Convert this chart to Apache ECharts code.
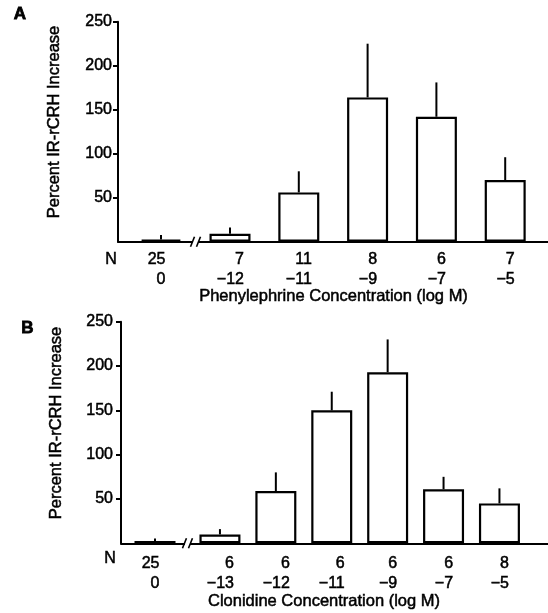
<!DOCTYPE html>
<html><head><meta charset="utf-8">
<script src="https://cdn.jsdelivr.net/npm/echarts@6/dist/echarts.min.js"></script>
<style>html,body{margin:0;padding:0;background:#fff}#c{width:548px;height:613px}</style>
</head><body><div id="c"></div>
<script>
// ---- Panel A: phenylephrine ----
const phenCtrlConc = ['0'];
const phenCtrlN = [25];
const phenCtrlMean = [2.5];
const phenCtrlSem = [5];
const phenConc = ['\u221212', '\u221211', '\u22129', '\u22127', '\u22125'];
const phenN = [7, 11, 8, 6, 7];
const phenMean = [9, 56, 164, 142, 70];
const phenSem = [7, 24, 61, 39, 26];
// ---- Panel B: clonidine ----
const cloCtrlConc = ['0'];
const cloCtrlN = [25];
const cloCtrlMean = [2.5];
const cloCtrlSem = [3];
const cloConc = ['\u221213', '\u221212', '\u221211', '\u22129', '\u22127', '\u22125'];
const cloN = [6, 6, 6, 6, 6, 8];
const cloMean = [10, 59, 150, 193, 61, 45];
const cloSem = [6, 21, 21, 37, 14, 17];
// ---- shared axis ----
const yTickValues = [50, 100, 150, 200, 250];
const yMin = 0, yMax = 250, yInterval = 50;

const FONT = '"Liberation Sans", Arial, Helvetica, sans-serif';
const FS = 16;
const TB = 0.5; // slight text stroke to mimic the heavier printed type
const ctx = document.createElement('canvas').getContext('2d');
ctx.font = FS + 'px ' + FONT;
const tw = s => ctx.measureText(String(s)).width;

const chart = echarts.init(document.getElementById('c'), null, {renderer: 'canvas'});

function frameX(g) {
  return {type: 'value', gridIndex: g, min: 0, max: 1,
    axisLine: {show: true, lineStyle: {color: '#000', width: 2}},
    axisTick: {show: false}, axisLabel: {show: false}, splitLine: {show: false}};
}
function frameY(g, margin) {
  return {type: 'value', gridIndex: g, min: yMin, max: yMax, interval: yInterval,
    axisLine: {show: true, lineStyle: {color: '#000', width: 2}},
    axisTick: {show: true, inside: false, length: 5, lineStyle: {color: '#000', width: 2}, customValues: yTickValues},
    axisLabel: {show: true, margin: margin, color: '#000', fontSize: FS, fontFamily: FONT, customValues: yTickValues,
      textBorderColor: '#000', textBorderWidth: TB},
    splitLine: {show: false}};
}
function hiddenY(g) {
  return {type: 'value', gridIndex: g, min: yMin, max: yMax, show: false};
}
function catX(g, concs, ns, margin) {
  const rich = {};
  concs.forEach((c, i) => {
    rich['w' + i] = {width: Math.ceil(tw(c)), align: 'right', fontSize: FS, lineHeight: 20, fontFamily: FONT, color: '#000',
      textBorderColor: '#000', textBorderWidth: TB};
  });
  return {type: 'category', gridIndex: g, data: concs,
    axisLine: {show: false}, axisTick: {show: false}, splitLine: {show: false},
    axisLabel: {interval: 0, margin: margin, align: 'center',
      formatter: (v, i) => '{w' + i + '|' + ns[i] + '}\n{w' + i + '|' + v + '}', rich: rich}};
}
function bars(k, means) {
  return {type: 'bar', xAxisIndex: k, yAxisIndex: k, data: means, barWidth: 41, silent: true,
    itemStyle: {color: '#fff', borderColor: '#000', borderWidth: 2.2}};
}
function errs(k, means, sems) {
  return {type: 'custom', xAxisIndex: k, yAxisIndex: k, silent: true,
    data: means.map((m, i) => [i, m, m + sems[i]]),
    encode: {x: 0, y: [1, 2]},
    renderItem: (p, api) => {
      const a = api.coord([api.value(0), api.value(1)]);
      const b = api.coord([api.value(0), api.value(2)]);
      return {type: 'line', shape: {x1: a[0], y1: a[1], x2: b[0], y2: b[1]}, style: {stroke: '#000', lineWidth: 2}};
    }};
}

const gA = {top: 21.7, bottom: 371.3};
const gB = {top: 321.7, bottom: 69.7};

const option = {
  animation: false,
  backgroundColor: '#fff',
  grid: [
    {left: 118, right: 0, top: gA.top, bottom: gA.bottom},
    {left: 126.6, width: 68.8, top: gA.top, bottom: gA.bottom},
    {left: 195.6, width: 344, top: gA.top, bottom: gA.bottom},
    {left: 121, right: 0, top: gB.top, bottom: gB.bottom},
    {left: 127, width: 56, top: gB.top, bottom: gB.bottom},
    {left: 192, width: 335.4, top: gB.top, bottom: gB.bottom}
  ],
  xAxis: [
    frameX(0),
    catX(1, phenCtrlConc, phenCtrlN, 8.3),
    catX(2, phenConc, phenN, 8.3),
    frameX(3),
    catX(4, cloCtrlConc, cloCtrlN, 10),
    catX(5, cloConc, cloN, 10)
  ],
  yAxis: [frameY(0, 6), hiddenY(1), hiddenY(2), frameY(3, 8), hiddenY(4), hiddenY(5)],
  series: [
    bars(1, phenCtrlMean), errs(1, phenCtrlMean, phenCtrlSem),
    bars(2, phenMean), errs(2, phenMean, phenSem),
    bars(4, cloCtrlMean), errs(4, cloCtrlMean, cloCtrlSem),
    bars(5, cloMean), errs(5, cloMean, cloSem)
  ]
};
chart.setOption(option);

function txt(text, x, y, opts) {
  opts = opts || {};
  return {type: 'text', x: x, y: y, rotation: opts.rot || 0, silent: true, z: 100,
    style: {text: text, fill: '#000', font: (opts.bold ? 'bold ' : '') + (opts.size || FS) + 'px ' + FONT,
      stroke: '#000', lineWidth: opts.bold ? 0.8 : TB,
      align: opts.align || 'center', verticalAlign: 'middle',
      textAlign: opts.align || 'center', textVerticalAlign: 'middle'}};
}
function breakMark(ctrlGrid, trtGrid) {
  const p0 = chart.convertToPixel({gridIndex: ctrlGrid}, [0, 0]);
  const p1 = chart.convertToPixel({gridIndex: trtGrid}, [0, 0]);
  const m = (p0[0] + p1[0]) / 2, y = p0[1];
  return [
    {type: 'rect', shape: {x: m - 2.5, y: y - 3, width: 5, height: 6}, style: {fill: '#fff'}, z: 90, silent: true},
    {type: 'line', shape: {x1: m - 5, y1: y + 5, x2: m - 1, y2: y - 5}, style: {stroke: '#000', lineWidth: 1.6}, z: 91, silent: true},
    {type: 'line', shape: {x1: m + 1, y1: y + 5, x2: m + 5, y2: y - 5}, style: {stroke: '#000', lineWidth: 1.6}, z: 91, silent: true}
  ];
}

chart.setOption({
  graphic: [
    txt('A', 20, 14.5, {bold: true, size: 17}),
    txt('B', 27.5, 328, {bold: true, size: 17}),
    txt('Percent IR-rCRH Increase', 54, 122, {rot: Math.PI / 2, size: 16.5}),
    txt('Percent IR-rCRH Increase', 56, 423, {rot: Math.PI / 2, size: 16.5}),
    txt('N', 111, 260),
    txt('N', 110, 559),
    txt('Phenylephrine Concentration (log M)', 333.5, 296.5, {size: 16.5}),
    txt('Clonidine Concentration (log M)', 324, 601, {size: 16.5})
  ].concat(breakMark(1, 2), breakMark(4, 5))
});
</script></body></html>
